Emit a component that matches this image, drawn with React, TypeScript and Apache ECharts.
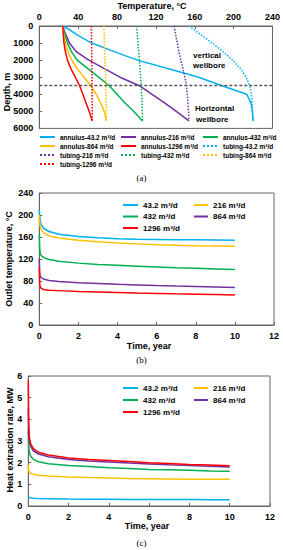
import React, { useEffect, useRef } from "react";
import * as echarts from "echarts";

// ---- (a) temperature profiles ----
const depthM = [0, 250, 500, 1000, 1500, 2000, 2500, 3000, 3500, 4000, 4500, 5000, 5560];
const ann43 = [24.3, 32, 38.5, 54, 77, 101, 133, 164, 188, 213.5, 217.8, 219.3, 220];
const ann216 = [24.3, 25.5, 27.3, 31, 38, 51, 67, 83, 103, 116, 129, 141, 154];
const ann432 = [24.3, 25, 26.2, 29, 33, 39, 50, 61, 72, 80, 88, 97, 106.3];
const ann864 = [24.3, 24.6, 25.2, 26.8, 29.2, 33.5, 39, 46, 53, 58.5, 63, 66.8, 69];
const ann1296 = [24.3, 24.4, 24.7, 25.4, 26.8, 29, 32.5, 37, 41.5, 44.8, 48, 51.3, 54.5];
const tub43 = [154, 160, 166, 178, 189, 199, 207, 213, 216.5, 218.3, 219, 219.5, 220];
const tub216 = [138.7, 139.5, 140.4, 142, 143.6, 145.6, 147.8, 149.8, 151.5, 152.3, 153, 153.6, 154];
const tub432 = [100.2, 100.5, 100.9, 101.6, 102.3, 103, 103.7, 104.3, 104.8, 105.3, 105.7, 106, 106.3];
const tub864 = [66.5, 66.6, 66.8, 67, 67.3, 67.6, 67.9, 68.2, 68.4, 68.6, 68.8, 68.9, 69];
const tub1296 = [53.6, 53.6, 53.7, 53.8, 53.9, 54, 54.1, 54.2, 54.3, 54.4, 54.4, 54.5, 54.5];
const verticalBoundary = 3500;

// ---- (b) outlet temperature & (c) heat extraction ----
const timeYr = [0, 0.02, 0.05, 0.1, 0.25, 0.5, 1, 2, 3, 4, 5, 6, 7, 8, 9, 10];
const outT43 = [209, 200, 190, 182, 175, 170, 165, 161, 158.5, 157, 156, 155.5, 155, 154.8, 154.4, 154];
const outT216 = [200, 188, 179, 173, 167, 162, 158, 154, 151.5, 149, 147.5, 146, 145, 144, 143.5, 143];
const outT432 = [165, 140, 130, 126, 122, 119, 116, 112.5, 110, 108.5, 107, 105.5, 104, 103, 102, 101];
const outT864 = [120, 95, 89, 86, 83, 81, 79, 77, 75.5, 74, 72.8, 71.7, 70.8, 70, 69, 68];
const outT1296 = [105, 75, 69, 66.5, 64, 63, 62.5, 61, 60, 59, 58, 57.3, 56.6, 56, 55.3, 54.7];

const heat43 = [0.42, 0.4, 0.39, 0.38, 0.36, 0.35, 0.34, 0.32, 0.315, 0.31, 0.305, 0.3, 0.3, 0.295, 0.29, 0.29];
const heat216 = [1.9, 1.65, 1.56, 1.51, 1.46, 1.42, 1.38, 1.34, 1.31, 1.29, 1.27, 1.26, 1.25, 1.24, 1.235, 1.23];
const heat432 = [3.5, 2.75, 2.5, 2.33, 2.15, 2.04, 1.95, 1.87, 1.82, 1.77, 1.73, 1.69, 1.67, 1.65, 1.62, 1.6];
const heat864 = [4.5, 3.3, 3.0, 2.78, 2.55, 2.4, 2.27, 2.15, 2.08, 2.03, 1.98, 1.94, 1.9, 1.87, 1.83, 1.8];
const heat1296 = [5.8, 3.8, 3.2, 2.9, 2.65, 2.48, 2.35, 2.22, 2.15, 2.1, 2.05, 2.0, 1.96, 1.92, 1.89, 1.86];

const rateNames = ["43.2 m³/d", "216 m³/d", "432 m³/d", "864 m³/d", "1296 m³/d"];
// colours for 43.2, 216, 432, 864, 1296 in panel (a) and in panels (b)/(c)
const colorsA = ["#00B0F0", "#7030A0", "#00B050", "#FFC000", "#FF0000"];
const colorsBC = ["#00B0F0", "#FFC000", "#00B050", "#7030A0", "#FF0000"];

const FONT = "'Liberation Sans', Arial, sans-serif";

export default function App() {
  const ref = useRef<HTMLDivElement>(null);
  useEffect(() => {
    if (!ref.current) return;
    const chart = echarts.init(ref.current, undefined, { renderer: "svg" });

    const annArr = [ann43, ann216, ann432, ann864, ann1296];
    const tubArr = [tub43, tub216, tub432, tub864, tub1296];
    const outArr = [outT43, outT216, outT432, outT864, outT1296];
    const heatArr = [heat43, heat216, heat432, heat864, heat1296];

    const series: any[] = [];
    annArr.forEach((vals, i) => {
      const s: any = {
        name: "annulus-" + rateNames[i],
        type: "line",
        xAxisIndex: 0,
        yAxisIndex: 0,
        symbol: "none",
        lineStyle: { color: colorsA[i], width: 1.5 },
        itemStyle: { color: colorsA[i] },
        data: depthM.map((d, k) => [vals[k], d]),
      };
      if (i === 0) {
        s.markLine = {
          silent: true,
          symbol: ["none", "none"],
          label: { show: false },
          lineStyle: { color: "#595959", type: [3, 2], width: 1.3 },
          data: [{ yAxis: verticalBoundary }],
        };
      }
      series.push(s);
    });
    tubArr.forEach((vals, i) => {
      series.push({
        name: "tubing-" + rateNames[i],
        type: "line",
        xAxisIndex: 0,
        yAxisIndex: 0,
        symbol: "none",
        lineStyle: { color: colorsA[i], width: 1.5, type: "dotted" },
        itemStyle: { color: colorsA[i] },
        data: depthM.map((d, k) => [vals[k], d]),
      });
    });
    outArr.forEach((vals, i) => {
      series.push({
        name: rateNames[i],
        type: "line",
        xAxisIndex: 1,
        yAxisIndex: 1,
        symbol: "none",
        lineStyle: { color: colorsBC[i], width: 1.5 },
        itemStyle: { color: colorsBC[i] },
        data: timeYr.map((t, k) => [t, vals[k]]),
      });
    });
    heatArr.forEach((vals, i) => {
      series.push({
        name: rateNames[i],
        type: "line",
        xAxisIndex: 2,
        yAxisIndex: 2,
        symbol: "none",
        lineStyle: { color: colorsBC[i], width: 1.5 },
        itemStyle: { color: colorsBC[i] },
        data: timeYr.map((t, k) => [t, vals[k]]),
      });
    });

    const labelStyle = (margin: number) => ({
      color: "#000",
      fontSize: 9,
      fontWeight: "bold",
      fontFamily: FONT,
      margin,
      formatter: (v: number) => String(v),
    });

    const axisCommon = (extra: any) => ({
      type: "value",
      splitLine: { show: false },
      axisLine: { show: true, lineStyle: { color: "#666", width: 1 } },
      axisTick: { show: true, inside: true, length: 3, lineStyle: { color: "#666" } },
      axisLabel: labelStyle(6),
      ...extra,
    });

    const legendCommon = (left: number, top: number, data: string[], fs: number, ih: number, gap: number, iw: number) => ({
      orient: "vertical",
      left,
      top,
      padding: 0,
      itemWidth: iw,
      itemHeight: ih,
      itemGap: gap,
      selectedMode: false,
      itemStyle: { opacity: 0 },
      data,
      textStyle: { fontSize: fs, fontWeight: "bold", color: "#000", fontFamily: FONT },
    });

    const txt = (text: string, x: number, y: number, fs: number, opts: any = {}) => ({
      type: "text",
      x,
      y,
      rotation: opts.rotation || 0,
      style: {
        text,
        fontSize: fs,
        fontWeight: opts.weight || "bold",
        fontFamily: opts.family || FONT,
        fill: "#000",
        align: opts.align || "center",
        verticalAlign: "middle",
      },
    });

    const serif = "'Liberation Serif', 'DejaVu Serif', serif";

    const option: any = {
      animation: false,
      textStyle: { fontFamily: FONT },
      grid: [
        { left: 39.3, top: 26, width: 234.7, height: 102.4, show: true, borderColor: "#666", borderWidth: 1 },
        { left: 39.3, top: 193, width: 234.7, height: 132, show: true, borderColor: "#666", borderWidth: 1 },
        { left: 28.3, top: 376, width: 241.7, height: 130, show: true, borderColor: "#666", borderWidth: 1 },
      ],
      xAxis: [
        axisCommon({ gridIndex: 0, position: "top", min: 0, max: 240, interval: 40, axisLabel: labelStyle(5) }),
        axisCommon({ gridIndex: 1, min: 0, max: 12, interval: 2 }),
        axisCommon({ gridIndex: 2, min: 0, max: 12, interval: 2 }),
      ],
      yAxis: [
        axisCommon({ gridIndex: 0, inverse: true, min: 0, max: 6000, interval: 1000 }),
        axisCommon({ gridIndex: 1, min: 0, max: 240, interval: 40 }),
        axisCommon({ gridIndex: 2, min: 0, max: 6, interval: 1 }),
      ],
      legend: [
        legendCommon(39, 133.5, ["annulus-43.2 m³/d", "annulus-864 m³/d", "tubing-216 m³/d", "tubing-1296 m³/d"], 6.5, 7, 2, 15),
        legendCommon(120, 133.5, ["annulus-216 m³/d", "annulus-1296 m³/d", "tubing-432 m³/d"], 6.5, 7, 2, 15),
        legendCommon(202, 133.5, ["annulus-432 m³/d", "tubing-43.2 m³/d", "tubing-864 m³/d"], 6.5, 7, 2, 15),
        legendCommon(122, 201, ["43.2 m³/d", "432 m³/d", "1296 m³/d"], 8, 8, 3.5, 15),
        legendCommon(193, 201, ["216 m³/d", "864 m³/d"], 8, 8, 3.5, 14),
        legendCommon(122, 384, ["43.2 m³/d", "432 m³/d", "1296 m³/d"], 8, 8, 4, 15),
        legendCommon(193, 384, ["216 m³/d", "864 m³/d"], 8, 8, 4, 14),
      ],
      graphic: [
        txt("Temperature, °C", 152, 6, 9),
        txt("Depth, m", 7, 92, 9, { rotation: Math.PI / 2 }),
        txt("vertical", 193, 55, 8, { align: "left" }),
        txt("wellbore", 193, 65.5, 8, { align: "left" }),
        txt("Horizontal", 195, 108.5, 8, { align: "left" }),
        txt("wellbore", 196, 119, 8, { align: "left" }),
        txt("(a)", 141.5, 178, 9, { weight: "normal", family: serif }),
        txt("Outlet temperature, °C", 9, 259, 9, { rotation: Math.PI / 2 }),
        txt("Time, year", 149, 346, 9),
        txt("(b)", 141.5, 360, 9, { weight: "normal", family: serif }),
        txt("Heat extraction rate, MW", 9.5, 440, 9, { rotation: Math.PI / 2 }),
        txt("Time, year", 147, 526, 9),
        txt("(c)", 141.5, 543, 9, { weight: "normal", family: serif }),
      ],
      series,
    };
    chart.setOption(option);
    return () => chart.dispose();
  }, []);
  return <div ref={ref} style={{ position: "absolute", left: 0, top: 0, width: 283, height: 550, background: "#fff" }} />;
}
